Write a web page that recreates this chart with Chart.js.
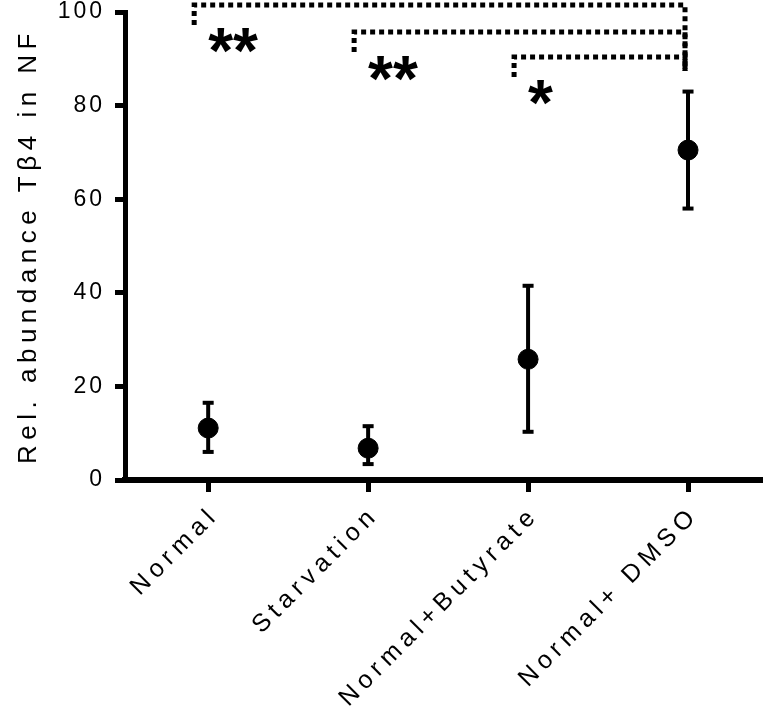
<!DOCTYPE html>
<html>
<head>
<meta charset="utf-8">
<script src="https://cdn.jsdelivr.net/npm/chart.js@4.4.0/dist/chart.umd.min.js"></script>
<style>
  html, body { margin: 0; padding: 0; background: #fff; }
  #wrap { width: 774px; height: 707px; }
</style>
</head>
<body>
<div id="wrap"><canvas id="chart" width="774" height="707"></canvas></div>
<script>
// groups along the x axis
var categories = ['Normal', 'Starvation', 'Normal+Butyrate', 'Normal+ DMSO'];
// mean and error bar ends
var means = [11.1, 6.8, 25.8, 70.5];
var errHigh = [16.5, 11.5, 41.5, 83];
var errLow = [6.0, 3.4, 10.3, 58];
// y axis ticks
var yTicks = [0, 20, 40, 60, 80, 100];
// significance brackets
var sigFrom = [0, 1, 2];
var sigTo = [3, 3, 3];
var sigLevel = [101.5, 95.7, 90.4];
var sigStars = ['**', '**', '*'];
var yTitle = 'Rel. abundance T\u03b24 in NF';

var FONT = "'Liberation Sans', Arial, sans-serif";

// error bars, drawn under the points
var errorBars = {
  id: 'errorBars',
  beforeDatasetsDraw: function (chart) {
    var ctx = chart.ctx, xs = chart.scales.x, ys = chart.scales.y;
    ctx.save();
    ctx.strokeStyle = '#000';
    ctx.fillStyle = '#000';
    ctx.lineWidth = 4;
    for (var i = 0; i < means.length; i++) {
      var px = xs.getPixelForValue(i);
      var top = ys.getPixelForValue(errHigh[i]);
      var bot = ys.getPixelForValue(errLow[i]);
      ctx.beginPath();
      ctx.moveTo(px, top); ctx.lineTo(px, bot);
      ctx.stroke();
      ctx.fillRect(px - 5.5, top - 2, 11, 4);
      ctx.fillRect(px - 5.5, bot - 2, 11, 4);
    }
    ctx.restore();
  }
};

// brackets, stars, rotated x labels and the y title
var annotations = {
  id: 'annotations',
  beforeDraw: function (chart) {
    chart.ctx.letterSpacing = '3px';
  },
  afterDraw: function (chart) {
    var ctx = chart.ctx, xs = chart.scales.x, ys = chart.scales.y;
    ctx.save();
    ctx.fillStyle = '#000';

    // x labels
    ctx.font = '25px ' + FONT;
    ctx.letterSpacing = '5.5px';
    ctx.textAlign = 'right';
    ctx.textBaseline = 'middle';
    categories.forEach(function (c, i) {
      var px = xs.getPixelForValue(i);
      ctx.save();
      ctx.translate(px + 7, 511);
      ctx.rotate(-Math.PI / 4);
      ctx.fillText(c, 0, 0);
      ctx.restore();
    });

    // y title
    ctx.font = '26px ' + FONT;
    ctx.letterSpacing = '5.5px';
    ctx.textAlign = 'center';
    ctx.save();
    ctx.translate(29, (chart.chartArea.top + chart.chartArea.bottom) / 2);
    ctx.rotate(-Math.PI / 2);
    ctx.fillText(yTitle, 0, 0);
    ctx.restore();

    // significance brackets
    ctx.letterSpacing = '0px';
    ctx.strokeStyle = '#000';
    ctx.lineWidth = 5;
    ctx.setLineDash([5, 4]);
    var lowest = ys.getPixelForValue(Math.min.apply(null, sigLevel)) + 14;
    for (var k = 0; k < sigFrom.length; k++) {
      var x1 = xs.getPixelForValue(sigFrom[k]) - 14;
      var x2 = xs.getPixelForValue(sigTo[k]) - 3;
      var y = ys.getPixelForValue(sigLevel[k]);
      ctx.beginPath();
      ctx.moveTo(x1, y + 20);
      ctx.lineTo(x1, y);
      ctx.lineTo(x2, y);
      ctx.lineTo(x2, lowest);
      ctx.stroke();

      ctx.font = 'bold 64px ' + FONT;
      ctx.textAlign = 'left';
      ctx.textBaseline = 'alphabetic';
      var m = ctx.measureText(sigStars[k]);
      var cy = y + 36;
      var base = cy + (m.actualBoundingBoxAscent - m.actualBoundingBoxDescent) / 2;
      ctx.fillText(sigStars[k], x1 + 14, base);
    }
    ctx.restore();
  }
};

var chart = new Chart(document.getElementById('chart'), {
  type: 'scatter',
  data: {
    datasets: [{
      data: means.map(function (v, i) { return { x: i, y: v }; }),
      backgroundColor: '#000',
      borderColor: '#000',
      pointRadius: 10,
      pointHoverRadius: 10,
      showLine: false
    }]
  },
  options: {
    responsive: false,
    animation: false,
    layout: { padding: { top: 12, right: 14, bottom: 0, left: 0 } },
    plugins: { legend: { display: false }, tooltip: { enabled: false } },
    scales: {
      x: {
        type: 'linear',
        min: -0.52,
        max: 3.45,
        afterBuildTicks: function (s) { s.ticks = categories.map(function (c, i) { return { value: i }; }); },
        afterFit: function (s) { s.height = 227; },
        border: { display: true, color: '#000', width: 6 },
        grid: { drawOnChartArea: false, drawTicks: true, tickLength: 12, tickWidth: 5, color: '#000', lineWidth: 5 },
        ticks: { display: false }
      },
      y: {
        min: 0,
        max: 100,
        afterBuildTicks: function (s) { s.ticks = yTicks.map(function (v) { return { value: v }; }); },
        afterFit: function (s) { s.width = 125; s.paddingTop = 0; s.paddingBottom = 0; },
        border: { display: true, color: '#000', width: 5 },
        grid: { drawOnChartArea: false, drawTicks: true, tickLength: 10, tickWidth: 5, color: '#000', lineWidth: 5 },
        ticks: { color: '#000', padding: 10, font: { family: FONT, size: 23 } }
      }
    }
  },
  plugins: [errorBars, annotations]
});
</script>
</body>
</html>
